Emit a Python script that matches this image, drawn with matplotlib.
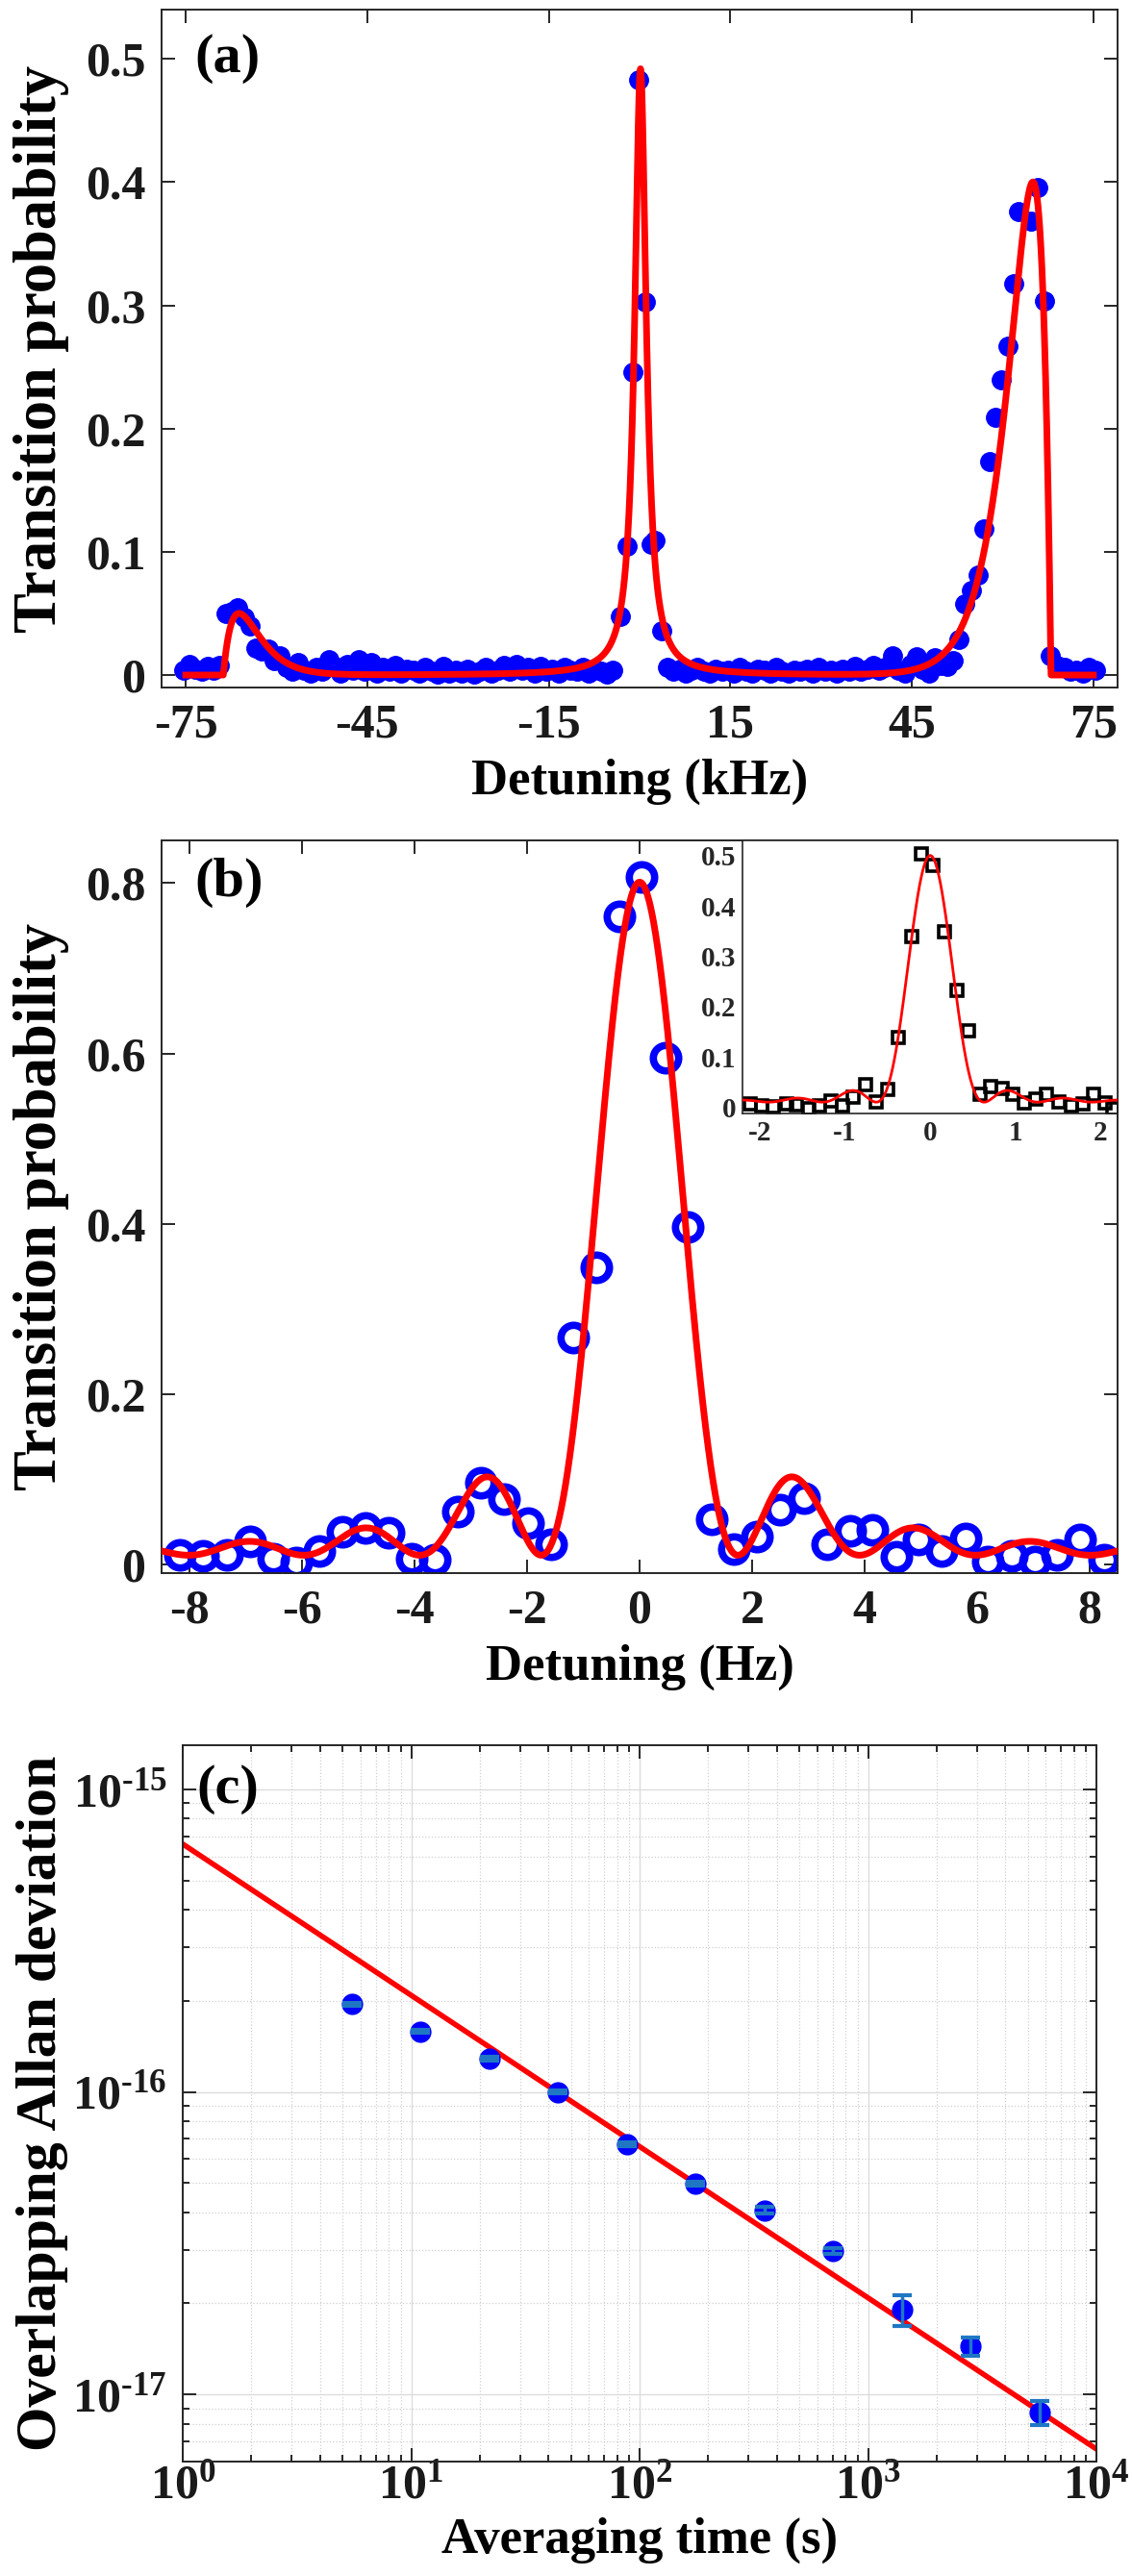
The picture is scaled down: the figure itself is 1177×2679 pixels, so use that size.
import numpy as np
import matplotlib
matplotlib.use('Agg')
import matplotlib.pyplot as plt
from matplotlib.ticker import FixedLocator, FuncFormatter, LogLocator, NullFormatter

plt.rcParams['font.family'] = ['Liberation Serif', 'DejaVu Serif']
plt.rcParams['font.weight'] = 'bold'
plt.rcParams['mathtext.fontset'] = 'custom'
plt.rcParams['mathtext.rm'] = 'Liberation Serif:bold'
plt.rcParams['mathtext.bf'] = 'Liberation Serif:bold'
plt.rcParams['axes.unicode_minus'] = False
plt.rcParams['axes.edgecolor'] = '#262626'
plt.rcParams['axes.linewidth'] = 1.4

# ---- panel (a): sideband spectrum, kHz
a_x = [-75.4, -74.4, -73.4, -72.4, -71.4, -70.4, -69.4, -68.4, -67.4, -66.4,
       -65.4, -64.4, -63.4, -62.4, -61.4, -60.4, -59.4, -58.4, -57.4, -56.4,
       -55.4, -54.4, -53.4, -52.4, -51.4, -50.4, -49.4, -48.4, -47.4, -46.4,
       -45.4, -44.4, -43.4, -42.4, -41.4, -40.4, -39.4, -38.4, -37.4, -36.4,
       -35.4, -34.4, -33.4, -32.4, -31.4, -30.4, -29.4, -28.4, -27.4, -26.4,
       -25.4, -24.4, -23.4, -22.4, -21.4, -20.4, -19.4, -18.4, -17.4, -16.4,
       -15.4, -14.4, -13.4, -12.4, -11.4, -10.4, -9.4, -8.4, -7.4, -6.4,
       -5.4, -4.4, -3.2, -2.1, -1.1, -0.15, 0.9, 1.9, 2.6, 3.6,
       4.6, 5.6, 6.6, 7.6, 8.6, 9.6, 10.6, 11.6, 12.6, 13.6,
       14.6, 15.6, 16.6, 17.6, 18.6, 19.6, 20.6, 21.6, 22.6, 23.6,
       24.6, 25.6, 26.6, 27.6, 28.6, 29.6, 30.6, 31.6, 32.6, 33.6,
       34.6, 35.6, 36.6, 37.6, 38.6, 39.6, 40.6, 41.8, 42.8, 43.8,
       44.8, 45.8, 46.8, 47.8, 48.8, 49.8, 50.8, 51.8, 52.8, 53.8,
       54.9, 55.9, 56.9, 57.8, 58.8, 59.8, 60.8, 61.8, 62.7, 64.7,
       65.8, 66.9, 67.9, 69.0, 70.2, 71.2, 72.1, 73.2, 74.2, 75.3]
a_y = [0.004, 0.009, 0.005, 0.003, 0.007, 0.004, 0.008, 0.050, 0.052, 0.055,
       0.047, 0.040, 0.022, 0.020, 0.021, 0.012, 0.016, 0.006, 0.003, 0.010,
       0.004, 0.002, 0.006, 0.003, 0.013, 0.007, 0.002, 0.009, 0.004, 0.013,
       0.003, 0.010, 0.002, 0.006, 0.003, 0.008, 0.002, 0.005, 0.004, 0.002,
       0.006, 0.003, 0.001, 0.007, 0.002, 0.004, 0.002, 0.005, 0.001, 0.003,
       0.006, 0.002, 0.004, 0.008, 0.003, 0.009, 0.004, 0.006, 0.002, 0.007,
       0.003, 0.005, 0.002, 0.006, 0.004, 0.003, 0.006, 0.002, 0.005, 0.003,
       0.001, 0.004, 0.048, 0.105, 0.246, 0.483, 0.303, 0.106, 0.109, 0.036,
       0.006, 0.003, 0.005, 0.002, 0.004, 0.006, 0.003, 0.002, 0.005, 0.003,
       0.004, 0.002, 0.006, 0.003, 0.002, 0.005, 0.004, 0.002, 0.006, 0.003,
       0.002, 0.004, 0.003, 0.005, 0.002, 0.006, 0.003, 0.004, 0.002, 0.005,
       0.003, 0.007, 0.003, 0.005, 0.008, 0.004, 0.006, 0.016, 0.004, 0.002,
       0.009, 0.015, 0.005, 0.002, 0.014, 0.008, 0.007, 0.012, 0.029, 0.058,
       0.069, 0.081, 0.119, 0.173, 0.209, 0.240, 0.267, 0.318, 0.376, 0.368,
       0.396, 0.304, 0.016, 0.008, 0.006, 0.003, 0.004, 0.002, 0.006, 0.004]

# fit parameters (a)
a_car_center, a_car_hwhm, a_car_amp = 0.15, 1.15, 0.492
a_bsb_edge, a_bsb_width, a_bsb_amp = 68.0, 3.0, 0.400
a_rsb_edge, a_rsb_width, a_rsb_amp = -68.8, 2.6, 0.050

# ---- panel (b): Rabi spectrum, Hz
b_x = [-8.18, -7.76, -7.33, -6.93, -6.51, -6.11, -5.69, -5.28, -4.87, -4.46,
       -4.06, -3.64, -3.24, -2.82, -2.42, -1.99, -1.58, -1.18, -0.77, -0.36,
       0.04, 0.46, 0.86, 1.28, 1.67, 2.09, 2.50, 2.92, 3.33, 3.74,
       4.14, 4.56, 4.96, 5.37, 5.79, 6.19, 6.62, 7.03, 7.43, 7.84, 8.26]
b_y = [0.012, 0.010, 0.012, 0.027, 0.007, 0.002, 0.016, 0.038, 0.043, 0.037,
       0.007, 0.006, 0.062, 0.096, 0.077, 0.049, 0.024, 0.267, 0.349, 0.761,
       0.807, 0.595, 0.396, 0.053, 0.018, 0.033, 0.064, 0.078, 0.024, 0.040,
       0.041, 0.009, 0.029, 0.016, 0.031, 0.004, 0.010, 0.004, 0.012, 0.030, 0.006]
b_amp, b_rabi, b_offset = 0.79, 1.01, 0.011

# inset of (b)
i_x = [-2.11, -1.98, -1.84, -1.69, -1.57, -1.43, -1.30, -1.17, -1.03, -0.90,
       -0.76, -0.63, -0.50, -0.37, -0.22, -0.10, 0.03, 0.17, 0.31, 0.45,
       0.58, 0.71, 0.84, 0.97, 1.11, 1.24, 1.37, 1.51, 1.66, 1.79,
       1.92, 2.05, 2.14]
i_y = [0.006, 0.003, 0.001, 0.006, 0.005, -0.003, 0.003, 0.013, 0.002, 0.019,
       0.044, 0.010, 0.035, 0.138, 0.339, 0.503, 0.481, 0.348, 0.232, 0.152,
       0.025, 0.041, 0.038, 0.025, 0.008, 0.016, 0.025, 0.010, 0.002, 0.006,
       0.025, 0.008, -0.003]
i_amp, i_time, i_offset = 0.49, 1.58, 0.010

# ---- panel (c): Allan deviation
tau = [5.5, 11, 22, 44, 88, 176, 352, 704, 1408, 2816, 5632]
adev = [1.95e-16, 1.585e-16, 1.29e-16, 1.0e-16, 6.73e-17, 4.97e-17, 4.06e-17,
        2.98e-17, 1.91e-17, 1.44e-17, 8.73e-18]
adev_err = [2.5e-18, 2.0e-18, 1.6e-18, 1.3e-18, 1.0e-18, 8e-19, 1.0e-18,
            7e-19, 2.2e-18, 1.0e-18, 8e-19]
c_coef = 6.6e-16   # sigma(tau) = c_coef / sqrt(tau)


def sideband_fit(x):
    y = a_car_amp / (1 + ((x - a_car_center) / a_car_hwhm)**2)
    u = a_bsb_edge - x
    y = y + np.where(u > 0, a_bsb_amp * (u / a_bsb_width) * np.exp(1 - u / a_bsb_width), 0)
    u = x - a_rsb_edge
    y = y + np.where(u > 0, a_rsb_amp * (u / a_rsb_width) * np.exp(1 - u / a_rsb_width), 0)
    return y


def rabi(d, amp, om, off):
    r = 1 + (d / om)**2
    return amp / r * np.sin(np.pi / 2 * np.sqrt(r))**2 + off


def style(ax, fs=36, pad=12):
    ax.tick_params(which='both', direction='in', top=True, right=True,
                   labelsize=fs, width=1.4, colors='#262626', labelcolor='#1a1a1a')
    ax.tick_params(which='major', length=10, pad=pad)
    ax.tick_params(which='minor', length=5)


def plain(v, p):
    return '0' if abs(v) < 1e-9 else f'{v:.1f}'


def power(v, p):
    e = int(round(np.log10(v)))
    if e < 0:
        return r'$\mathbf{10^{\text{-}%d}}$' % (-e)
    return r'$\mathbf{10^{%d}}$' % e


W, H = 1177, 2679
fig = plt.figure(figsize=(W / 100, H / 100), dpi=100)


def box(l, t, r, b):
    return [l / W, 1 - b / H, (r - l) / W, (b - t) / H]


RED = '#ff0000'
BLUE = '#0000ff'

# (a)
ax1 = fig.add_axes(box(168, 10, 1162, 715))
ax1.plot(a_x, a_y, 'o', color=BLUE, ms=14, mec=BLUE, zorder=2)
xf = np.linspace(-75, 75, 15001)
ax1.plot(xf, sideband_fit(xf), color=RED, lw=5, zorder=3)
ax1.set_xlim(-79, 79)
ax1.set_ylim(-0.01, 0.54)
ax1.xaxis.set_major_locator(FixedLocator([-75, -45, -15, 15, 45, 75]))
ax1.yaxis.set_major_locator(FixedLocator([0, 0.1, 0.2, 0.3, 0.4, 0.5]))
ax1.yaxis.set_major_formatter(FuncFormatter(plain))
style(ax1)
ax1.set_xlabel('Detuning (kHz)', fontsize=38, fontweight='bold', labelpad=8)
ax1.set_ylabel('Transition probability', fontsize=45, fontweight='bold')
ax1.yaxis.set_label_coords(-0.097, 0.5)
ax1.text(0.035, 0.5, '(a)', transform=ax1.get_yaxis_transform(), fontsize=42,
         fontweight='bold', va='center', ha='left')

# (b)
ax2 = fig.add_axes(box(168, 874, 1162, 1636))
ax2.plot(b_x, b_y, 'o', ms=19, mfc='none', mec=BLUE, mew=5.5, zorder=2)
bf = np.linspace(-8.5, 8.5, 4001)
ax2.plot(bf, rabi(bf, b_amp, b_rabi, b_offset), color=RED, lw=5, zorder=3)
ax2.set_xlim(-8.5, 8.5)
ax2.set_ylim(-0.01, 0.85)
ax2.xaxis.set_major_locator(FixedLocator([-8, -6, -4, -2, 0, 2, 4, 6, 8]))
ax2.yaxis.set_major_locator(FixedLocator([0, 0.2, 0.4, 0.6, 0.8]))
ax2.yaxis.set_major_formatter(FuncFormatter(plain))
style(ax2)
ax2.set_xlabel('Detuning (Hz)', fontsize=38, fontweight='bold', labelpad=8)
ax2.set_ylabel('Transition probability', fontsize=45, fontweight='bold')
ax2.yaxis.set_label_coords(-0.097, 0.5)
ax2.text(0.035, 0.8, '(b)', transform=ax2.get_yaxis_transform(), fontsize=42,
         fontweight='bold', va='center', ha='left')

# inset
axi = ax2.inset_axes([0.608, 0.627, 0.392, 0.373])
axi.plot(i_x, i_y, 's', ms=9, mfc='none', mec='black', mew=2.6, zorder=2)
inf = np.linspace(-2.2, 2.2, 2001)
axi.plot(inf, i_amp * np.sinc(inf * i_time)**2 + i_offset, color=RED, lw=2, zorder=3)
axi.set_xlim(-2.2, 2.2)
axi.set_ylim(-0.013, 0.53)
axi.xaxis.set_major_locator(FixedLocator([-2, -1, 0, 1, 2]))
axi.yaxis.set_major_locator(FixedLocator([0, 0.1, 0.2, 0.3, 0.4, 0.5]))
axi.yaxis.set_major_formatter(FuncFormatter(plain))
axi.tick_params(direction='in', length=0, labelsize=21, pad=5, colors='#262626')
for s in axi.spines.values():
    s.set_linewidth(1.2)

# (c)
ax3 = fig.add_axes(box(190, 1815, 1140, 2560))
ax3.set_xscale('log')
ax3.set_yscale('log')
ax3.grid(which='major', color='#dcdcdc', lw=1.0)
ax3.grid(which='minor', color='#d0d0d0', lw=0.9, ls=':')
ax3.plot(tau, adev, 'o', color=BLUE, ms=15, zorder=3)
ax3.errorbar(tau, adev, yerr=adev_err, fmt='none', ecolor='#1f77c4',
             elinewidth=2.5, capsize=7, capthick=3, zorder=4)
tf = np.logspace(0, 4, 200)
ax3.plot(tf, c_coef / np.sqrt(tf), color=RED, lw=4, zorder=2)
ax3.set_xlim(1, 1e4)
ax3.set_ylim(6e-18, 1.4e-15)
ax3.xaxis.set_major_locator(LogLocator(base=10, numticks=10))
ax3.yaxis.set_major_locator(FixedLocator([1e-17, 1e-16, 1e-15]))
ax3.xaxis.set_minor_locator(LogLocator(base=10, subs=np.arange(2, 10), numticks=20))
ax3.yaxis.set_minor_locator(LogLocator(base=10, subs=np.arange(2, 10), numticks=20))
ax3.xaxis.set_minor_formatter(NullFormatter())
ax3.yaxis.set_minor_formatter(NullFormatter())
ax3.xaxis.set_major_formatter(FuncFormatter(power))
ax3.yaxis.set_major_formatter(FuncFormatter(power))
style(ax3)
ax3.tick_params(axis='x', which='major', pad=2)
ax3.set_axisbelow(True)
ax3.set_xlabel('Averaging time (s)', fontsize=38, fontweight='bold', va='top')
ax3.xaxis.set_label_coords(0.5, -0.078)
ax3.set_ylabel('Overlapping Allan deviation', fontsize=43, fontweight='bold')
ax3.yaxis.set_label_coords(-0.125, 0.5)
ax3.text(0.015, 1e-15, '(c)', transform=ax3.get_yaxis_transform(), fontsize=42,
         fontweight='bold', va='center', ha='left')

fig.savefig('out.png', dpi=100, facecolor='white')
